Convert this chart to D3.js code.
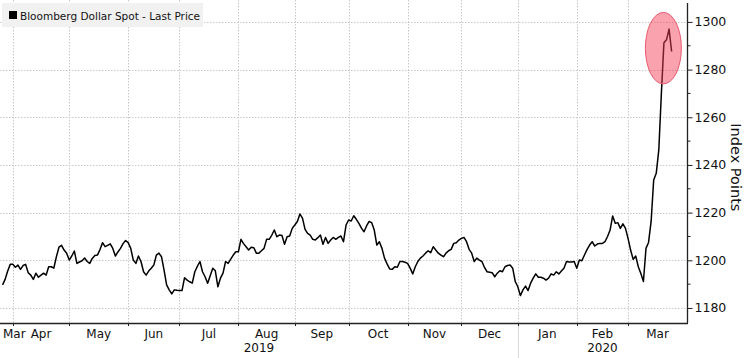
<!DOCTYPE html>
<html>
<head>
<meta charset="utf-8">
<script src="https://cdn.jsdelivr.net/npm/d3@7"></script>
<style>
  html, body { margin: 0; padding: 0; background: #fff; }
  svg { display: block; }
  text { font-family: "DejaVu Sans", "Noto Sans", sans-serif; fill: #111; }
</style>
</head>
<body>
<svg id="chart" width="750" height="358"></svg>
<script>
// ---------------- DATA ----------------
const seriesName = "Bloomberg Dollar Spot - Last Price";
const yAxisTitle = "Index Points";
const yTicks = [1180, 1200, 1220, 1240, 1260, 1280, 1300];
const yMinorTicks = [1190, 1210, 1230, 1250, 1270, 1290];
const monthLabels = ["Mar", "Apr", "May", "Jun", "Jul", "Aug", "Sep", "Oct", "Nov", "Dec", "Jan", "Feb", "Mar"];
const yearLabels = ["2019", "2020"];
const axisStart = "2019-03-25";
const axisEnd = "2020-04-02";

// daily closes (trading days), each month starts at its first listed trading day
const mar2019 = ["2019-03-26", [1189.7, 1192.0, 1195.5, 1198.3]];
const apr2019 = ["2019-04-01", [1198.3, 1197.1, 1198.0, 1196.2, 1197.8, 1198.3, 1194.8, 1193.8, 1192.0, 1194.6, 1192.9, 1193.8, 1194.6, 1193.8, 1197.3, 1197.3, 1196.7, 1201.5, 1205.5, 1206.3, 1204.3, 1203.0]];
const may2019 = ["2019-05-01", [1200.1, 1201.8, 1203.9, 1198.7, 1199.3, 1199.8, 1201.0, 1199.5, 1198.7, 1200.8, 1202.0, 1202.2, 1204.5, 1207.4, 1205.7, 1206.3, 1206.9, 1205.0, 1201.8, 1203.5, 1205.0, 1207.0, 1208.3]];
const jun2019 = ["2019-06-03", [1207.4, 1205.0, 1200.1, 1198.7, 1201.8, 1199.5, 1195.2, 1193.8, 1195.5, 1196.7, 1198.0, 1202.2, 1203.0, 1201.5, 1195.9, 1189.7, 1187.6, 1185.9, 1187.6, 1187.4]];
const jul2019 = ["2019-07-01", [1187.3, 1187.3, 1192.7, 1191.7, 1191.0, 1190.4, 1195.2, 1197.5, 1199.5, 1195.2, 1193.1, 1190.4, 1193.5, 1196.7, 1195.6, 1188.9, 1192.5, 1194.6, 1199.5, 1198.7, 1200.5, 1202.2, 1203.6]];
const aug2019 = ["2019-08-01", [1203.6, 1208.8, 1207.0, 1205.7, 1204.3, 1205.5, 1205.3, 1203.0, 1203.0, 1204.0, 1205.0, 1208.8, 1208.8, 1210.5, 1212.7, 1209.9, 1210.6, 1210.4, 1206.7, 1209.9, 1210.2, 1213.4]];
const sep2019 = ["2019-09-02", [1214.8, 1216.3, 1219.4, 1217.7, 1213.0, 1211.3, 1210.6, 1208.8, 1208.5, 1209.5, 1210.6, 1206.7, 1209.6, 1207.1, 1208.5, 1209.6, 1208.8, 1209.6, 1210.2, 1207.8, 1214.8]];
const oct2019 = ["2019-10-01", [1216.9, 1216.5, 1218.7, 1217.2, 1215.5, 1213.5, 1212.0, 1214.4, 1216.3, 1215.8, 1212.7, 1206.4, 1207.8, 1205.0, 1200.9, 1198.5, 1196.4, 1196.2, 1197.3, 1197.1, 1199.5, 1199.5, 1199.2]];
const nov2019 = ["2019-11-01", [1198.7, 1196.7, 1194.3, 1197.3, 1199.5, 1200.9, 1201.8, 1203.0, 1204.0, 1203.2, 1205.7, 1204.3, 1203.0, 1202.2, 1201.5, 1203.0, 1204.0, 1204.6, 1207.1, 1207.4, 1208.5]];
const dec2019 = ["2019-12-02", [1209.2, 1209.6, 1207.8, 1204.6, 1203.0, 1199.5, 1200.9, 1200.1, 1199.5, 1197.0, 1195.2, 1195.0, 1194.8, 1193.1, 1194.6, 1195.6, 1195.2, 1197.3, 1197.8, 1198.0, 1196.7, 1191.1]];
const jan2020 = ["2020-01-01", [1188.9, 1185.2, 1187.6, 1189.2, 1187.3, 1190.4, 1192.5, 1194.3, 1192.9, 1192.9, 1192.5, 1191.7, 1192.5, 1194.3, 1193.8, 1195.2, 1194.3, 1195.5, 1196.7, 1199.5, 1199.3, 1199.3, 1199.5]];
const feb2020 = ["2020-02-03", [1196.7, 1200.1, 1199.8, 1202.2, 1204.5, 1206.4, 1207.8, 1206.0, 1206.8, 1207.1, 1207.1, 1207.8, 1210.0, 1212.7, 1218.6, 1215.5, 1215.8, 1213.4, 1215.3, 1213.4]];
const mar2020 = ["2020-03-02", [1209.2, 1204.3, 1200.4, 1201.8, 1197.3, 1194.5, 1191.1, 1205.0, 1207.5, 1216.3, 1233.7, 1236.5, 1246.3, 1270.0, 1291.3, 1292.5, 1297.0, 1287.6]];
const monthBlocks = [mar2019, apr2019, may2019, jun2019, jul2019, aug2019, sep2019, oct2019, nov2019, dec2019, jan2020, feb2020, mar2020];

// highlight ellipse annotation (value space)
const highlightCenter = ["2020-03-19", 1289];
const highlightHalfRange = 15;

// ---------------- BUILD ----------------
const parse = d3.timeParse("%Y-%m-%d");
const isWeekday = d => d.getDay() !== 0 && d.getDay() !== 6;
function weekdaysFrom(startStr, n) {
  const out = [];
  let d = parse(startStr);
  while (out.length < n) {
    if (isWeekday(d)) out.push(d);
    d = d3.timeDay.offset(d, 1);
  }
  return out;
}
const data = [];
monthBlocks.forEach(([start, vals]) => {
  const days = weekdaysFrom(start, vals.length);
  vals.forEach((v, i) => data.push({ date: days[i], value: v }));
});

const start = parse(axisStart);
function tIndex(date) {
  return d3.timeDay.range(start, date).filter(isWeekday).length;
}

// ---------------- LAYOUT ----------------
const svg = d3.select("#chart");
const plotRight = 687, plotBottom = 323, plotTop = 0;

const x = d3.scaleLinear().domain([0, tIndex(parse(axisEnd))]).range([0, plotRight]);
const y = d3.scaleLinear().domain([1173.7, 1309.2]).range([plotBottom, plotTop]);

// month starts (first weekday of each month)
const monthStarts = d3.timeMonth.range(parse("2019-04-01"), parse("2020-04-01"))
  .map(m => { let d = m; while (!isWeekday(d)) d = d3.timeDay.offset(d, 1); return d; });
const monthPos = monthStarts.map(d => x(tIndex(d)));

// grid
const grid = svg.append("g").attr("stroke", "#c8c8c8").attr("stroke-width", 1).attr("stroke-dasharray", "1.5,1.5");
grid.selectAll("line.h").data(yTicks).join("line")
  .attr("x1", 0).attr("x2", plotRight)
  .attr("y1", d => Math.round(y(d)) + 0.5).attr("y2", d => Math.round(y(d)) + 0.5);
grid.selectAll("line.v").data(monthPos).join("line")
  .attr("x1", d => Math.round(d) + 0.5).attr("x2", d => Math.round(d) + 0.5)
  .attr("y1", plotTop).attr("y2", plotBottom);

// line
const line = d3.line().x(d => x(tIndex(d.date))).y(d => y(d.value));
svg.append("path").datum(data)
  .attr("fill", "none").attr("stroke", "#000").attr("stroke-width", 1.5)
  .attr("stroke-linejoin", "round").attr("d", line);

// highlight ellipse
const hc = x(tIndex(parse(highlightCenter[0])));
svg.append("ellipse")
  .attr("cx", hc + 2).attr("cy", y(highlightCenter[1]))
  .attr("rx", 18).attr("ry", y(highlightCenter[1] - highlightHalfRange) - y(highlightCenter[1]))
  .attr("fill", "rgba(245,60,85,0.48)").attr("stroke", "#e85a70").attr("stroke-width", 1);

// right axis
const yAxis = d3.axisRight(y).tickValues(yTicks).tickSize(5).tickPadding(2).tickFormat(d3.format("d"));
const ya = svg.append("g").attr("transform", `translate(${plotRight + 0.5},0)`).call(yAxis);
ya.select(".domain").attr("d", `M0,3V${plotBottom}`).attr("stroke", "#222").attr("stroke-width", 1.3);
ya.selectAll(".tick line").attr("stroke", "#222");
ya.selectAll(".tick text").attr("font-size", 12.5).attr("font-family", "DejaVu Sans").attr("fill", "#111");
ya.selectAll(".minor").data(yMinorTicks).join("line").attr("class", "minor")
  .attr("x1", 0).attr("x2", 3).attr("y1", d => y(d)).attr("y2", d => y(d)).attr("stroke", "#222");

// y title
svg.append("text")
  .attr("transform", `translate(731,${y(1239)}) rotate(90)`)
  .attr("text-anchor", "middle").attr("font-size", 14.5).text(yAxisTitle);

// bottom axis
svg.append("line").attr("x1", 0).attr("x2", plotRight + 1).attr("y1", plotBottom + 0.5).attr("y2", plotBottom + 0.5)
  .attr("stroke", "#222").attr("stroke-width", 1.3);
svg.selectAll("line.xt").data(monthPos).join("line").attr("class", "xt")
  .attr("x1", d => Math.round(d) + 0.5).attr("x2", d => Math.round(d) + 0.5)
  .attr("y1", plotBottom).attr("y2", plotBottom + 3).attr("stroke", "#222");

const bounds = [0, ...monthPos, plotRight];
const mg = svg.append("g").attr("font-size", 12);
monthLabels.forEach((lab, i) => {
  let cx = (bounds[i] + bounds[i + 1]) / 2;
  const t = mg.append("text").attr("y", plotBottom + 15).attr("text-anchor", "middle").text(lab);
  const w = t.node().getComputedTextLength();
  if (cx - w / 2 < 3) cx = 3 + w / 2;
  t.attr("x", cx);
});

// years
const janPos = x(tIndex(monthStarts[9]));
const yearBounds = [[0, janPos], [janPos, plotRight]];
yearLabels.forEach((lab, i) => {
  svg.append("text").attr("x", (yearBounds[i][0] + yearBounds[i][1]) / 2).attr("y", plotBottom + 29)
    .attr("text-anchor", "middle").attr("font-size", 12).text(lab);
});
svg.append("line").attr("x1", Math.round(janPos) + 0.5).attr("x2", Math.round(janPos) + 0.5)
  .attr("y1", plotBottom + 3).attr("y2", 358).attr("stroke", "#d8d8d8");

// legend
const lg = svg.append("g");
lg.append("rect").attr("x", 2).attr("y", 3).attr("width", 201).attr("height", 24).attr("fill", "#f1f1f1");
lg.append("rect").attr("x", 9).attr("y", 11).attr("width", 8).attr("height", 8).attr("fill", "#000");
lg.append("text").attr("x", 20).attr("y", 19.5).attr("font-size", 10.5).text(seriesName);
</script>
</body>
</html>
